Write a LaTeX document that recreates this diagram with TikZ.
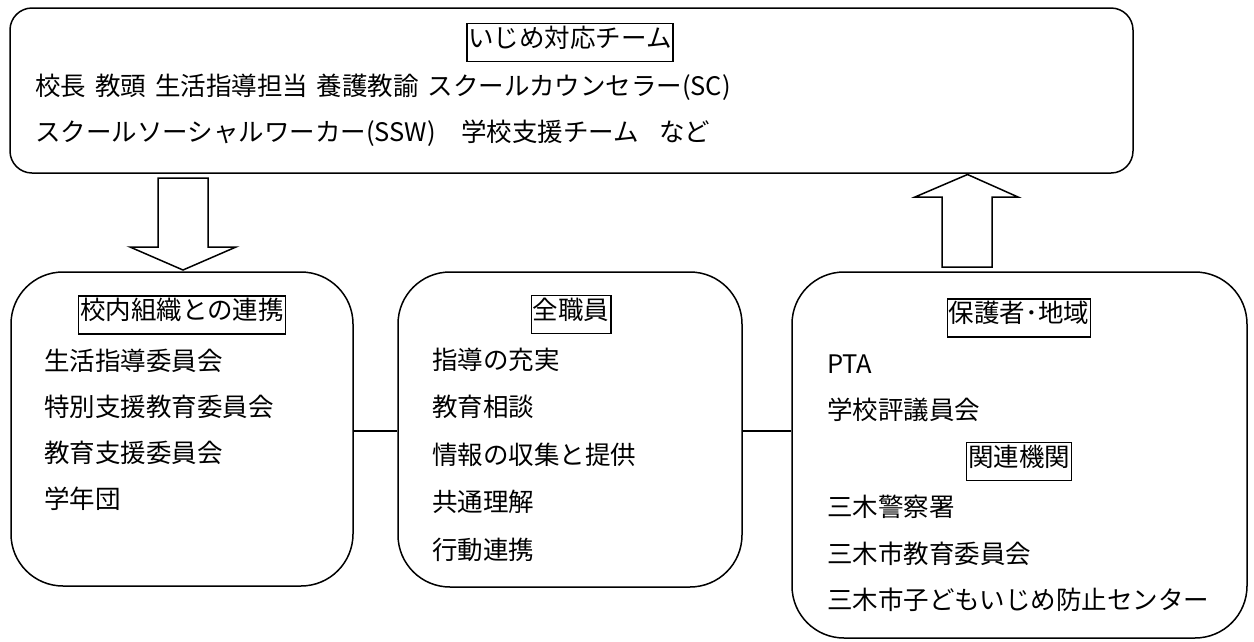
\documentclass[tikz,border=0pt]{standalone}
\usepackage{fontspec}
\setmainfont{Noto Sans CJK JP}
\begin{document}
\begin{tikzpicture}[x=1pt,y=-1pt,
  every node/.style={font=\fontsize{25.5}{30}\selectfont},
  bigbox/.style={draw, line width=1.5pt, rounded corners=52pt, inner sep=0pt},
  ttl/.style={draw, line width=1.5pt, inner xsep=1.5pt, inner ysep=0pt, minimum height=38pt, text height=0.95em, text depth=0.05em},
  item/.style={anchor=west, inner sep=0pt, text height=1.2em, text depth=0em},
  conn/.style={line width=1.2pt},
  blockarrow/.style={draw, line width=1.5pt, fill=white, line join=miter}
]
\useasboundingbox (0,0) rectangle (1254,641);
% boxes
\node[bigbox, rounded corners=22pt, minimum width=1123pt, minimum height=165pt] (top) at (571.5,90.5) {};
\node[bigbox, minimum width=342pt, minimum height=314pt] (lb) at (182,429) {};
\node[bigbox, minimum width=344pt, minimum height=315pt] (mb) at (570,429.5) {};
\node[bigbox, minimum width=455pt, minimum height=366pt] (rb) at (1019.5,455) {};
% top texts
\node[ttl] (tt) at (570,42.5) {いじめ対応チーム};
\node[item] (t1) at (35,89) {校長\hspace{0.35em}教頭\hspace{0.35em}生活指導担当\hspace{0.35em}養護教諭\hspace{0.35em}スクールカウンセラー(SC)};
\node[item] (t2) at (35,135) {スクールソーシャルワーカー(SSW)\hspace{1em}学校支援チーム\hspace{0.8em}など};
% left texts
\node[ttl] (lt) at (182,315) {校内組織との連携};
\node[item] (l1) at (44,364) {生活指導委員会};
\node[item] (l2) at (44,410) {特別支援教育委員会};
\node[item] (l3) at (44,456) {教育支援委員会};
\node[item] (l4) at (44,502) {学年団};
% middle texts
\node[ttl] (mt) at (571,314.5) {全職員};
\node[item] (m1) at (432,363) {指導の充実};
\node[item] (m2) at (432,410.5) {教育相談};
\node[item] (m3) at (432,458) {情報の収集と提供};
\node[item] (m4) at (432,505.5) {共通理解};
\node[item] (m5) at (432,553) {行動連携};
% right texts
\node[ttl] (rt) at (1019,318) {保護者･地域};
\node[item] (r1) at (827,367) {PTA};
\node[item] (r2) at (827,413) {学校評議員会};
\node[ttl] (rt2) at (1019,461.5) {関連機関};
\node[item] (r3) at (827,510) {三木警察署};
\node[item] (r4) at (827,557) {三木市教育委員会};
\node[item] (r5) at (827,603) {三木市子どもいじめ防止センター};
% connectors
\coordinate (cy) at (0,431);
\draw[conn] (lb.east |- cy) -- (mb.west |- cy);
\draw[conn] (mb.east |- cy) -- (rb.west |- cy);
% block arrows
\draw[blockarrow] (158,178) -- (208,178) -- (208,247) -- (236,247) -- (183,270) -- (130,247) -- (158,247) -- cycle;
\draw[blockarrow] (942,267) -- (992,267) -- (992,197) -- (1018,197) -- (967.5,174.5) -- (915,197) -- (942,197) -- cycle;
\end{tikzpicture}
\end{document}
